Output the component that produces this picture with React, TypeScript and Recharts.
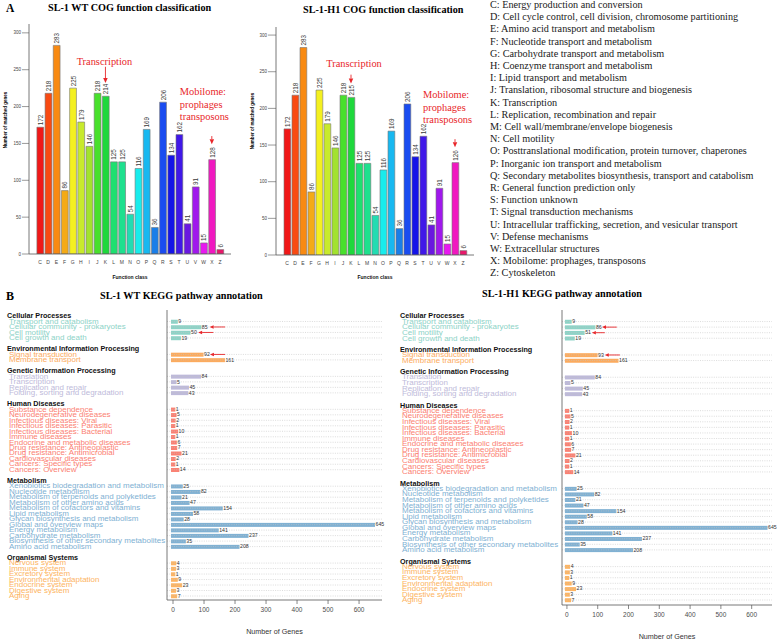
import React from 'react';
import { BarChart, Bar, XAxis, YAxis, Cell, LabelList, ReferenceLine } from 'recharts';

const serif = "'Liberation Serif', 'Times New Roman', serif";
const sans = "'Liberation Sans', Arial, Helvetica, sans-serif";
const noteRed = '#e8262a';
const frameStroke = { stroke: '#555', strokeWidth: 0.8 };

// ---- COG classification ----
const cogClasses = ['C', 'D', 'E', 'F', 'G', 'H', 'I', 'J', 'K', 'L', 'M', 'N', 'O', 'P', 'Q', 'R', 'S', 'T', 'U', 'V', 'W', 'X', 'Z'];
const wtCogGenes = [172, 218, 283, 86, 225, 179, 146, 218, 214, 125, 125, 54, 116, 169, 36, 206, 134, 162, 41, 91, 15, 128, 6];
const h1CogGenes = [172, 218, 283, 86, 225, 179, 146, 218, 215, 125, 125, 54, 116, 169, 36, 206, 134, 162, 41, 91, 15, 126, 6];
const cogTicks = [0, 50, 100, 150, 200, 250, 300];
const cogPalette = [
  '#f01818', '#f84a12', '#f88a12', '#f4aa16', '#f4f020', '#c8ea2c', '#a2e22e', '#48e02c',
  '#1ed83c', '#1ee070', '#1ee08e', '#22dcb2', '#18ecec', '#18b8f0', '#1a7ee8', '#1a4cf0',
  '#1414e8', '#4018e8', '#6a18e0', '#a018ec', '#e818f0', '#f018c0', '#e8186a',
];
const cogDescriptions = [
  'C: Energy production and conversion',
  'D: Cell cycle control, cell division, chromosome partitioning',
  'E: Amino acid transport and metabolism',
  'F: Nucleotide transport and metabolism',
  'G: Carbohydrate transport and metabolism',
  'H: Coenzyme transport and metabolism',
  'I: Lipid transport and metabolism',
  'J: Translation, ribosomal structure and biogenesis',
  'K: Transcription',
  'L: Replication, recombination and repair',
  'M: Cell wall/membrane/envelope biogenesis',
  'N: Cell motility',
  'O: Posttranslational modification, protein turnover, chaperones',
  'P: Inorganic ion transport and metabolism',
  'Q: Secondary metabolites biosynthesis, transport and catabolism',
  'R: General function prediction only',
  'S: Function unknown',
  'T: Signal transduction mechanisms',
  'U: Intracellular trafficking, secretion, and vesicular transport',
  'V: Defense mechanisms',
  'W: Extracellular structures',
  'X: Mobilome: prophages, transposons',
  'Z: Cytoskeleton',
];

type CogNote = { cls: string; from: number; to: number; lines: string[]; dx: number; dy: number; anchor: 'start' | 'middle' };
const mobilomeLines = ['Mobilome:', 'prophages', 'transposons'];
const wtCogNotes: CogNote[] = [
  { cls: 'K', from: 254, to: 232, lines: ['Transcription'], dx: -1, dy: -2, anchor: 'middle' },
  { cls: 'X', from: 160, to: 149, lines: mobilomeLines, dx: -32, dy: -41, anchor: 'start' },
];
const h1CogNotes: CogNote[] = [
  { cls: 'K', from: 246, to: 234, lines: ['Transcription'], dx: 3, dy: -8, anchor: 'middle' },
  { cls: 'X', from: 158, to: 147, lines: mobilomeLines, dx: -32, dy: -41, anchor: 'start' },
];

// ---- KEGG pathways ----
const keggGroups = [
  'Cellular Processes',
  'Environmental Information Processing',
  'Genetic Information Processing',
  'Human Diseases',
  'Metabolism',
  'Organismal Systems',
];
const keggPathways = [
  ['Transport and catabolism', 'Cellular community - prokaryotes', 'Cell motility', 'Cell growth and death'],
  ['Signal transduction', 'Membrane transport'],
  ['Translation', 'Transcription', 'Replication and repair', 'Folding, sorting and degradation'],
  ['Substance dependence', 'Neurodegenerative diseases', 'Infectious diseases: Viral', 'Infectious diseases: Parasitic',
    'Infectious diseases: Bacterial', 'Immune diseases', 'Endocrine and metabolic diseases', 'Drug resistance: Antineoplastic',
    'Drug resistance: Antimicrobial', 'Cardiovascular diseases', 'Cancers: Specific types', 'Cancers: Overview'],
  ['Xenobiotics biodegradation and metabolism', 'Nucleotide metabolism', 'Metabolism of terpenoids and polyketides',
    'Metabolism of other amino acids', 'Metabolism of cofactors and vitamins', 'Lipid metabolism',
    'Glycan biosynthesis and metabolism', 'Global and overview maps', 'Energy metabolism', 'Carbohydrate metabolism',
    'Biosynthesis of other secondary metabolites', 'Amino acid metabolism'],
  ['Nervous system', 'Immune system', 'Excretory system', 'Environmental adaptation', 'Endocrine system',
    'Digestive system', 'Aging'],
];
const wtKeggGenes = [
  [9, 85, 50, 19],
  [92, 161],
  [84, 5, 45, 43],
  [1, 5, 2, 1, 10, 1, 6, 7, 21, 2, 1, 14],
  [25, 82, 21, 47, 154, 58, 28, 645, 141, 237, 35, 208],
  [4, 3, 1, 9, 23, 3, 7],
];
const h1KeggGenes = [
  [9, 86, 51, 19],
  [93, 161],
  [84, 5, 45, 43],
  [1, 5, 2, 1, 10, 1, 6, 7, 21, 2, 1, 14],
  [25, 82, 21, 47, 154, 58, 28, 645, 141, 237, 35, 208],
  [4, 3, 1, 9, 23, 3, 7],
];
const keggGroupColors = ['#8dd3c7', '#fcab5e', '#bebada', '#fb8072', '#80b1d3', '#fdb462'];
const keggTicks = [0, 100, 200, 300, 400, 500, 600];

type KeggArrow = { pathway: string; from: number; to: number };
const wtKeggArrows: KeggArrow[] = [
  { pathway: 'Cellular community - prokaryotes', from: 168, to: 118 },
  { pathway: 'Cell motility', from: 130, to: 81 },
  { pathway: 'Signal transduction', from: 168, to: 119 },
];
const h1KeggArrows: KeggArrow[] = [
  { pathway: 'Cellular community - prokaryotes', from: 162, to: 114 },
  { pathway: 'Cell motility', from: 123, to: 81 },
  { pathway: 'Signal transduction', from: 172, to: 123 },
];

type KeggRow = { id: string; text: string; kind: 'head' | 'item' | 'gap'; group: number; genes: number | null };

function buildKeggRows(genes: number[][]): KeggRow[] {
  const rows: KeggRow[] = [];
  keggGroups.forEach((g, gi) => {
    if (gi > 0) rows.push({ id: `gap-${gi}`, text: '', kind: 'gap', group: gi, genes: null });
    rows.push({ id: `head-${gi}`, text: g, kind: 'head', group: gi, genes: null });
    keggPathways[gi].forEach((p, pi) => rows.push({ id: p, text: p, kind: 'item', group: gi, genes: genes[gi][pi] }));
  });
  return rows;
}

// arrow from (x1,y1) to a filled head at (x2,y2)
const Arrow = ({ x1, y1, x2, y2, head = 4 }: any) => {
  const ang = Math.atan2(y2 - y1, x2 - x1);
  const bx = x2 - head * Math.cos(ang);
  const by = y2 - head * Math.sin(ang);
  const w = head * 0.45;
  const px = -Math.sin(ang) * w;
  const py = Math.cos(ang) * w;
  return (
    <g>
      <line x1={x1} y1={y1} x2={bx} y2={by} stroke={noteRed} strokeWidth={0.9} />
      <polygon points={`${x2},${y2} ${bx + px},${by + py} ${bx - px},${by - py}`} fill={noteRed} />
    </g>
  );
};

const CogNoteMark = ({ note, ...p }: any) => (
  <g>
    <Arrow x1={p.x1} y1={p.y1} x2={p.x2} y2={p.y2} head={5} />
    {note.lines.map((t: string, i: number) => (
      <text key={t} x={p.x1 + note.dx} y={p.y1 + note.dy + i * 12.5} textAnchor={note.anchor}
        fontSize={10.4} fontFamily={serif} fill={noteRed}>{t}</text>
    ))}
  </g>
);

const CogValue = (p: any) => {
  if (p.value == null) return null;
  const cx = p.x + p.width / 2;
  const top = p.y - 2;
  return (
    <text x={cx} y={top} transform={`rotate(-90 ${cx} ${top})`} fontSize={6.3} fill="#3a3a3a"
      fontFamily={sans} dominantBaseline="central">{p.value}</text>
  );
};

type CogProps = {
  genes: number[]; notes: CogNote[]; width: number; top: number; right: number;
  axisWidth: number; axisHeight: number; max: number; pad: number; tickSize: number;
};

const CogChart = ({ genes, notes, width, top, right, axisWidth, axisHeight, max, pad, tickSize }: CogProps) => {
  const data = cogClasses.map((cls, i) => ({ cls, genes: genes[i] }));
  return (
    <BarChart width={width} height={290} data={data} barCategoryGap={0}
      margin={{ top, right, left: 0, bottom: 0 }}>
      <XAxis dataKey="cls" interval={0} height={axisHeight} padding={{ left: pad, right: pad }}
        tickLine={false} tickSize={0} tickMargin={6} axisLine={frameStroke}
        tick={{ fontSize: 5, fill: '#444', fontFamily: sans }}
        label={{ value: 'Function class', position: 'insideBottom', offset: 11, fontSize: 5, fontWeight: 700, fill: '#111', fontFamily: sans }} />
      <XAxis xAxisId="top" orientation="top" type="number" domain={[0, 1]} allowDataOverflow height={0}
        tick={false} tickLine={false} axisLine={frameStroke} />
      <YAxis type="number" domain={[0, max]} allowDataOverflow ticks={cogTicks} width={axisWidth}
        tickSize={tickSize} tickMargin={1} axisLine={frameStroke} tickLine={{ stroke: '#555', strokeWidth: 0.6 }}
        tick={{ fontSize: 4.5, fill: '#444', fontFamily: sans }} />
      <YAxis yAxisId="right" orientation="right" type="number" domain={[0, 1]} allowDataOverflow width={0}
        tick={false} tickLine={false} axisLine={frameStroke} />
      <Bar dataKey="genes" barSize={6.8} stroke="#767676" strokeWidth={0.6} isAnimationActive={false}>
        {data.map((d, i) => <Cell key={d.cls} fill={cogPalette[i]} />)}
        <LabelList dataKey="genes" content={CogValue} />
      </Bar>
      {notes.map((n) => (
        <ReferenceLine key={n.cls} segment={[{ x: n.cls, y: n.from }, { x: n.cls, y: n.to }]}
          shape={(p: any) => <CogNoteMark {...p} note={n} />} />
      ))}
    </BarChart>
  );
};

const KeggBar = (p: any) => {
  const row = p.payload as KeggRow | undefined;
  if (!row || row.genes == null || !p.height) return <g />;
  return <rect x={p.x - 2} y={p.y} width={Math.max(p.width, 0) + 4} height={p.height} fill={keggGroupColors[row.group]} />;
};

const KeggValue = (p: any) => {
  if (p.value == null) return null;
  return (
    <text x={p.x + p.width + 2.5} y={p.y + p.height / 2 - 0.6} fontSize={5.2} fill="#333"
      fontFamily={sans} dominantBaseline="central">{p.value}</text>
  );
};

// pathway names are set in a squat 8px face so the 5.5px rows stay legible
const makeKeggTick = (rows: KeggRow[], labelX: number) => (p: any) => {
  const row = rows.find((r) => r.id === p.payload.value);
  if (!row || row.kind === 'gap') return <g />;
  if (row.kind === 'head') {
    return (
      <text x={labelX - 2} y={p.y} dominantBaseline="central" fontFamily={sans} fontSize={7.2} fontWeight={700} fill="#111">
        {row.text}
      </text>
    );
  }
  return (
    <text x={labelX} y={p.y} transform={`translate(0 ${p.y}) scale(1 0.82) translate(0 ${-p.y})`}
      dominantBaseline="central" fontFamily={sans} fontSize={8} fill={keggGroupColors[row.group]}>
      {row.text}
    </text>
  );
};

type KeggProps = {
  genes: number[][]; arrows: KeggArrow[]; width: number; right: number; axisWidth: number;
  axisHeight: number; domain: [number, number]; padTop: number; padBottom: number; labelX: number; titleOffset: number;
};

const KeggChart = ({ genes, arrows, width, right, axisWidth, axisHeight, domain, padTop, padBottom, labelX, titleOffset }: KeggProps) => {
  const rows = buildKeggRows(genes);
  return (
    <BarChart layout="vertical" width={width} height={340} data={rows}
      margin={{ top: 10, right, left: 0, bottom: 0 }}>
      <XAxis type="number" domain={domain} allowDataOverflow ticks={keggTicks} height={axisHeight}
        tickSize={4} tickMargin={3} axisLine={frameStroke} tickLine={{ stroke: '#555', strokeWidth: 0.7 }}
        tick={{ fontSize: 6.5, fill: '#4d4d4d', fontFamily: sans }}
        label={{ value: 'Number of Genes', position: 'insideBottom', offset: titleOffset, fontSize: 7.2, fill: '#333', fontFamily: sans }} />
      <XAxis xAxisId="top" orientation="top" type="number" domain={[0, 1]} allowDataOverflow height={0}
        tick={false} tickLine={false} axisLine={frameStroke} />
      <YAxis type="category" dataKey="id" width={axisWidth} interval={0} padding={{ top: padTop, bottom: padBottom }}
        tickSize={0} tickMargin={0} tickLine={false} axisLine={frameStroke} tick={makeKeggTick(rows, labelX)} />
      <YAxis yAxisId="right" orientation="right" type="number" domain={[0, 1]} allowDataOverflow width={0}
        tick={false} tickLine={false} axisLine={frameStroke} />
      {rows.filter((r) => r.kind === 'item').map((r) => (
        <ReferenceLine key={r.id} y={r.id} stroke="#c4c4c4" strokeWidth={0.6} strokeDasharray="1 1.3" />
      ))}
      <Bar dataKey="genes" barSize={4} shape={KeggBar} isAnimationActive={false}>
        <LabelList dataKey="genes" content={KeggValue} />
      </Bar>
      {arrows.map((a) => (
        <ReferenceLine key={a.pathway} segment={[{ x: a.from, y: a.pathway }, { x: a.to, y: a.pathway }]}
          shape={(p: any) => <Arrow {...p} head={4} />} />
      ))}
    </BarChart>
  );
};

const place = (left: number, top: number): React.CSSProperties => ({ position: 'absolute', left, top });

export default function App() {
  return (
    <div style={{ position: 'absolute', left: 0, top: 0, width: 777, height: 640, background: '#fff', overflow: 'hidden' }}>
      <svg width={777} height={640} style={place(0, 0)}>
        <text x={6} y={12} fontSize={11.5} fontWeight={700} fontFamily={serif}>A</text>
        <text x={6} y={300} fontSize={12} fontWeight={700} fontFamily={serif}>B</text>
        <text x={48} y={11} fontSize={10.2} fontWeight={700} fontFamily={serif}>SL-1 WT COG function classification</text>
        <text x={303} y={12.5} fontSize={10.2} fontWeight={700} fontFamily={serif}>SL-1-H1 COG function classification</text>
        <text x={100} y={299} fontSize={10.2} fontWeight={700} fontFamily={serif}>SL-1 WT KEGG pathway annotation</text>
        <text x={482} y={297} fontSize={10.2} fontWeight={700} fontFamily={serif}>SL-1-H1 KEGG pathway annotation</text>
        <text x={5} y={120} transform="rotate(-90 5 120)" textAnchor="middle" dominantBaseline="central"
          fontSize={4.5} fontWeight={700} fontFamily={sans}>Number of matched genes</text>
        <text x={252} y={121} transform="rotate(-90 252 121)" textAnchor="middle" dominantBaseline="central"
          fontSize={4.5} fontWeight={700} fontFamily={sans}>Number of matched genes</text>
        {cogDescriptions.map((d, i) => (
          <text key={d} x={490} y={8 + i * 12.2} fontSize={10.2} fontFamily={serif} fill="#1a1a1a">{d}</text>
        ))}
      </svg>
      <div style={place(0, 0)}>
        <CogChart genes={wtCogGenes} notes={wtCogNotes} width={240} top={24} right={9}
          axisWidth={29} axisHeight={36} max={312} pad={6.9} tickSize={7} />
      </div>
      <div style={place(240, 0)}>
        <CogChart genes={h1CogGenes} notes={h1CogNotes} width={240} top={27} right={6}
          axisWidth={36} axisHeight={35} max={311} pad={7} tickSize={8} />
      </div>
      <div style={place(0, 300)}>
        <KeggChart genes={wtKeggGenes} arrows={wtKeggArrows} width={390} right={8} axisWidth={167}
          axisHeight={40} domain={[-19.4, 674]} padTop={3.25} padBottom={1.25} labelX={9} titleOffset={6} />
      </div>
      <div style={place(390, 300)}>
        <KeggChart genes={h1KeggGenes} arrows={h1KeggArrows} width={387} right={5} axisWidth={172}
          axisHeight={35} domain={[-16, 666]} padTop={3.2} padBottom={2.2} labelX={12} titleOffset={1} />
      </div>
    </div>
  );
}
